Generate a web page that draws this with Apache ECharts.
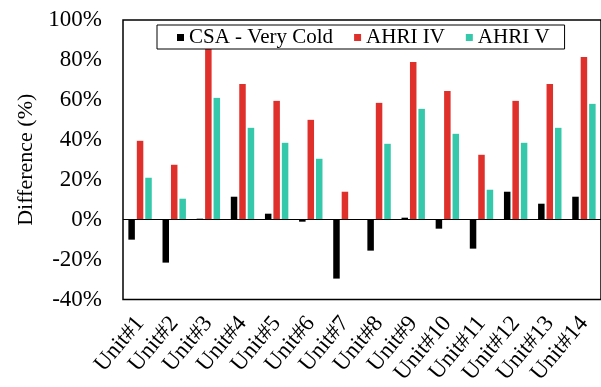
<!DOCTYPE html>
<html>
<head>
<meta charset="utf-8">
<style>
  html, body { margin: 0; padding: 0; background: #fff; }
  #chart { width: 601px; height: 387px; }
</style>
<script src="https://cdn.jsdelivr.net/npm/echarts@6/dist/echarts.min.js"></script>
</head>
<body>
<div id="chart"></div>
<script>
// Units tested
const units = ['Unit#1', 'Unit#2', 'Unit#3', 'Unit#4', 'Unit#5', 'Unit#6', 'Unit#7',
               'Unit#8', 'Unit#9', 'Unit#10', 'Unit#11', 'Unit#12', 'Unit#13', 'Unit#14'];

// Difference (%) per rating method
const csaVeryCold = [-10, -21.5, 0.5, 11.5, 3, -1, -29.5, -15.5, 1, -4.5, -14.5, 14, 8, 11.5];
const ahriIV      = [39.5, 27.5, 87, 68, 59.5, 50, 14, 58.5, 79, 64.5, 32.5, 59.5, 68, 81.5];
const ahriV       = [21, 10.5, 61, 46, 38.5, 30.5, 0, 38, 55.5, 43, 15, 38.5, 46, 58];

const seriesNames = ['CSA - Very Cold', 'AHRI IV', 'AHRI V'];
const seriesColors = ['#000000', '#E0302B', '#35C8AA'];

const FONT = 'Liberation Serif';

const chart = echarts.init(document.getElementById('chart'), null, { renderer: 'canvas' });

const values = [csaVeryCold, ahriIV, ahriV];
const series = values.map((data, i) => ({
  name: seriesNames[i],
  type: 'bar',
  data: data,
  barWidth: 6.5,
  barGap: '30%',
  itemStyle: { color: seriesColors[i] },
  z: 2
}));

// zero reference line across the plot
series[0].markLine = {
  silent: true,
  symbol: ['none', 'none'],
  label: { show: false },
  lineStyle: { color: '#000', width: 1, type: 'solid' },
  data: [{ yAxis: 0 }],
  z: 3
};

chart.setOption({
  animation: false,
  backgroundColor: '#fff',
  textStyle: { fontFamily: FONT, color: '#000' },
  grid: {
    left: 123, right: -1, top: 20, bottom: 87,
    show: true, borderColor: '#000', borderWidth: 1.5, backgroundColor: 'transparent'
  },
  legend: {
    data: seriesNames,
    left: 157, top: 25,
    orient: 'horizontal',
    icon: 'rect',
    itemWidth: 7, itemHeight: 7,
    itemGap: 21,
    padding: [2, 15, 1, 20],
    backgroundColor: '#fff',
    borderColor: '#000',
    borderWidth: 1,
    textStyle: { fontFamily: FONT, fontSize: 21, color: '#000', lineHeight: 21 },
    z: 10
  },
  xAxis: {
    type: 'category',
    data: units,
    axisLine: { show: false, onZero: false },
    axisTick: { show: false },
    axisLabel: {
      rotate: 50, interval: 0, margin: 20,
      fontFamily: FONT, fontSize: 23, color: '#000'
    },
    splitLine: { show: false }
  },
  yAxis: {
    type: 'value',
    min: -40, max: 100, interval: 20,
    name: 'Difference (%)',
    nameLocation: 'middle',
    nameRotate: 90,
    nameGap: 82,
    nameTextStyle: { fontFamily: FONT, fontSize: 22, color: '#000' },
    axisLine: { show: false },
    axisTick: { show: false },
    splitLine: { show: false },
    axisLabel: {
      formatter: '{value}%',
      margin: 21,
      fontFamily: FONT, fontSize: 23, color: '#000'
    }
  },
  series: series
});
</script>
</body>
</html>
